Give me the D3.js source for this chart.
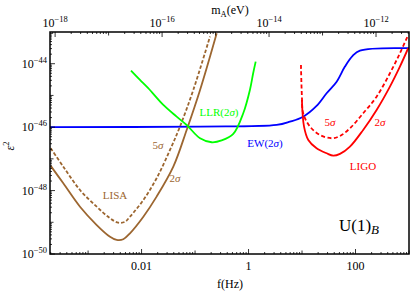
<!DOCTYPE html>
<html><head><meta charset="utf-8">
<script src="https://cdn.jsdelivr.net/npm/d3@7"></script>
<style>body{margin:0;background:#fff}svg{display:block}text{font-family:"Liberation Serif","DejaVu Serif",serif}</style>
</head><body><svg id="c" width="411" height="291"></svg>
<script>
// ---- data ----
const lisa2F   = [2.0e-4,3.44e-4,7.06e-4,1.45e-3,2.57e-3,3.43e-3,4.55e-3,6.07e-3,1.08e-2,1.91e-2,3.92e-2,6.97e-2,0.124,0.254];
const lisa2E   = [6.0e-48,1.70e-48,3.10e-49,8.2e-50,3.5e-50,2.77e-50,2.91e-50,4.50e-50,1.50e-49,6.43e-49,5.68e-48,8.17e-47,1.49e-45,9.16e-44];
const lisa5F   = [2.0e-4,3.44e-4,7.06e-4,1.45e-3,2.57e-3,3.67e-3,4.90e-3,6.07e-3,1.08e-2,1.91e-2,3.40e-2,5.22e-2,9.27e-2,0.190];
const lisa5E   = [2.16e-47,5.68e-48,1.04e-48,3.10e-49,1.34e-49,9.7e-50,1.04e-49,1.50e-49,5.05e-49,2.44e-48,1.91e-47,1.04e-46,1.49e-45,7.16e-44];
const llrF     = [6.34e-3,9.33e-3,1.33e-2,2.55e-2,4.53e-2,6.97e-2,0.124,0.204,0.314,0.518,0.796,1.06,1.22,1.36];
const llrE     = [6.05e-45,3.08e-45,1.69e-45,5.0e-46,2.14e-46,1.17e-46,4.47e-47,3.34e-47,3.80e-47,6.10e-47,2.74e-46,1.49e-45,5.01e-45,1.16e-44];
const ewF      = [1.94e-4,0.124,3.35,5.94,10.5,18.7,28.8,44.4,63.4,88.3,121,1000];
const ewE      = [1.0e-46,1.04e-46,1.17e-46,1.49e-46,2.14e-46,4.67e-46,1.17e-45,2.72e-45,8.11e-45,1.76e-44,2.59e-44,3.08e-44];
const ligo5F   = [9.55,9.95,10.5,14.1,21.6,35.7,51.2,78.7,139,248,440,676,966];
const ligo5E   = [9.16e-45,9.16e-46,2.74e-46,1.04e-46,5.68e-47,4.47e-47,5.27e-47,9.23e-47,2.74e-46,9.16e-46,5.01e-45,2.14e-44,8.11e-44];
const ligo2F   = [9.95,10.9,13.1,18.7,28.8,38.3,51.2,78.7,139,248,440,676,966];
const ligo2E   = [7.21e-46,1.04e-46,3.94e-47,2.16e-47,1.50e-47,1.26e-47,1.43e-47,2.43e-47,8.17e-47,3.49e-46,1.90e-45,8.11e-45,3.08e-44];
const xTickVals   = [0.01, 1, 100];
const xTickLabels = ["0.01", "1", "100"];
const yTickExps   = [-50, -48, -46, -44];
const topTickExps = [-18, -16, -14, -12];
const hEv = 4.1357e-15; // eV per Hz

// ---- layout ----
const L = 50, R = 409, T = 32, B = 254;
const svg = d3.select("#c");
const x = d3.scaleLog().domain([1.94e-4, 1000]).range([L, R]);
const y = d3.scaleLog().domain([1e-50, 1e-43]).range([B, T]);
const xt = d3.scaleLog().domain([1.94e-4 * hEv, 1000 * hEv]).range([L, R]);

svg.append("clipPath").attr("id", "clip").append("rect")
  .attr("x", L).attr("y", T).attr("width", R - L).attr("height", B - T);

const brown = "#9c6630", green = "#00ff00", blue = "#0000ff", red = "#ff0000";
const line = d3.line().x(d => x(d[0])).y(d => y(d[1])).curve(d3.curveCatmullRom.alpha(0.5));
const zip = (a, b) => a.map((v, i) => [v, b[i]]);
const g = svg.append("g").attr("clip-path", "url(#clip)");
function draw(F, E, col, dash) {
  g.append("path").attr("d", line(zip(F, E))).attr("fill", "none")
   .attr("stroke", col).attr("stroke-width", 1.8)
   .attr("stroke-dasharray", dash || null);
}
draw(ewF, ewE, blue);
draw(lisa2F, lisa2E, brown);
draw(lisa5F, lisa5E, brown, "3.5,2");
draw(llrF, llrE, green);
draw(ligo2F, ligo2E, red);
draw(ligo5F, ligo5E, red, "4,2.5");

// ---- ticks ----
const tk = svg.append("g").attr("stroke", "#000");
function logTicks(lo, hi) {
  const out = [];
  for (let e = lo; e <= hi; e++) for (let m = 1; m < 10; m++) out.push([m * Math.pow(10, e), m === 1 ? e : null]);
  return out;
}
logTicks(-4, 3).forEach(([v, e]) => {
  if (v < 1.94e-4 || v > 1000) return;
  const len = e === null ? 2 : (e % 2 === 0 ? 5 : 3.5);
  const px = x(v);
  tk.append("line").attr("x1", px).attr("x2", px).attr("y1", B).attr("y2", B - len).attr("stroke-width", 0.8);
});
logTicks(-19, -11).forEach(([v, e]) => {
  if (v < xt.domain()[0] || v > xt.domain()[1]) return;
  const len = e === null ? 2 : (e % 2 === 0 ? 5 : 3.5);
  const px = xt(v);
  tk.append("line").attr("x1", px).attr("x2", px).attr("y1", T).attr("y2", T + len).attr("stroke-width", 0.8);
});
logTicks(-50, -44).forEach(([v, e]) => {
  if (v > 1e-43) return;
  const len = e === null ? 2 : (e % 2 === 0 ? 5 : 3.5);
  const py = y(v);
  tk.append("line").attr("x1", L).attr("x2", L + len).attr("y1", py).attr("y2", py).attr("stroke-width", 0.8);
});

svg.append("rect").attr("x", L).attr("y", T).attr("width", R - L).attr("height", B - T)
  .attr("fill", "none").attr("stroke", "#000").attr("stroke-width", 1.5);

// ---- tick labels ----
const fs = 12;
xTickVals.forEach((v, i) => {
  svg.append("text").attr("x", x(v)).attr("y", 270).attr("text-anchor", "middle")
    .attr("font-size", fs).text(xTickLabels[i]);
});
function powLabel(px, py, exp, anchor) {
  const t = svg.append("text").attr("x", px).attr("y", py).attr("text-anchor", anchor).attr("font-size", fs);
  t.append("tspan").text("10");
  t.append("tspan").attr("dy", -5).attr("font-size", 8.5).text("\u2212" + Math.abs(exp));
}
yTickExps.forEach(e => powLabel(47, y(Math.pow(10, e)) + 4, e, "end"));
topTickExps.forEach(e => powLabel(xt(Math.pow(10, e)), 27, e, "middle"));

const mt = svg.append("text").attr("x", 230).attr("y", 14).attr("text-anchor", "middle").attr("font-size", fs);
mt.append("tspan").text("m");
mt.append("tspan").attr("dy", 2.5).attr("font-size", 8.5).text("A");
mt.append("tspan").attr("dy", -2.5).text("(eV)");
svg.append("text").attr("x", 230).attr("y", 288).attr("text-anchor", "middle").attr("font-size", fs).text("f(Hz)");
const et = svg.append("text").attr("transform", "translate(14,146) rotate(-90)").attr("text-anchor", "middle").attr("font-size", fs);
et.append("tspan").attr("font-style", "italic").text("\u03b5");
et.append("tspan").attr("dy", -5).attr("font-size", 8.5).text("2");

// ---- annotations ----
function label(px, py, col, parts, size, anchor) {
  const t = svg.append("text").attr("x", px).attr("y", py).attr("text-anchor", anchor || "middle")
    .attr("font-size", size || 11).attr("fill", col);
  parts.forEach(p => {
    const s = t.append("tspan").text(p.t);
    if (p.i) s.attr("font-style", "italic");
    if (p.dy) s.attr("dy", p.dy);
    if (p.fs) s.attr("font-size", p.fs);
  });
}
label(115, 199, brown, [{t: "LISA"}]);
label(158, 149, brown, [{t: "5"}, {t: "\u03c3", i: 1}]);
label(175, 182, brown, [{t: "2"}, {t: "\u03c3", i: 1}]);
label(219, 116, green, [{t: "LLR(2"}, {t: "\u03c3", i: 1}, {t: ")"}]);
label(265, 147, blue, [{t: "EW(2"}, {t: "\u03c3", i: 1}, {t: ")"}]);
label(330, 126, red, [{t: "5"}, {t: "\u03c3", i: 1}]);
label(380, 126, red, [{t: "2"}, {t: "\u03c3", i: 1}]);
label(363, 170, red, [{t: "LIGO"}]);
label(339, 231, "#000", [{t: "U(1)"}, {t: "B", i: 1, dy: 3, fs: 13}], 17, "start");
</script></body></html>
